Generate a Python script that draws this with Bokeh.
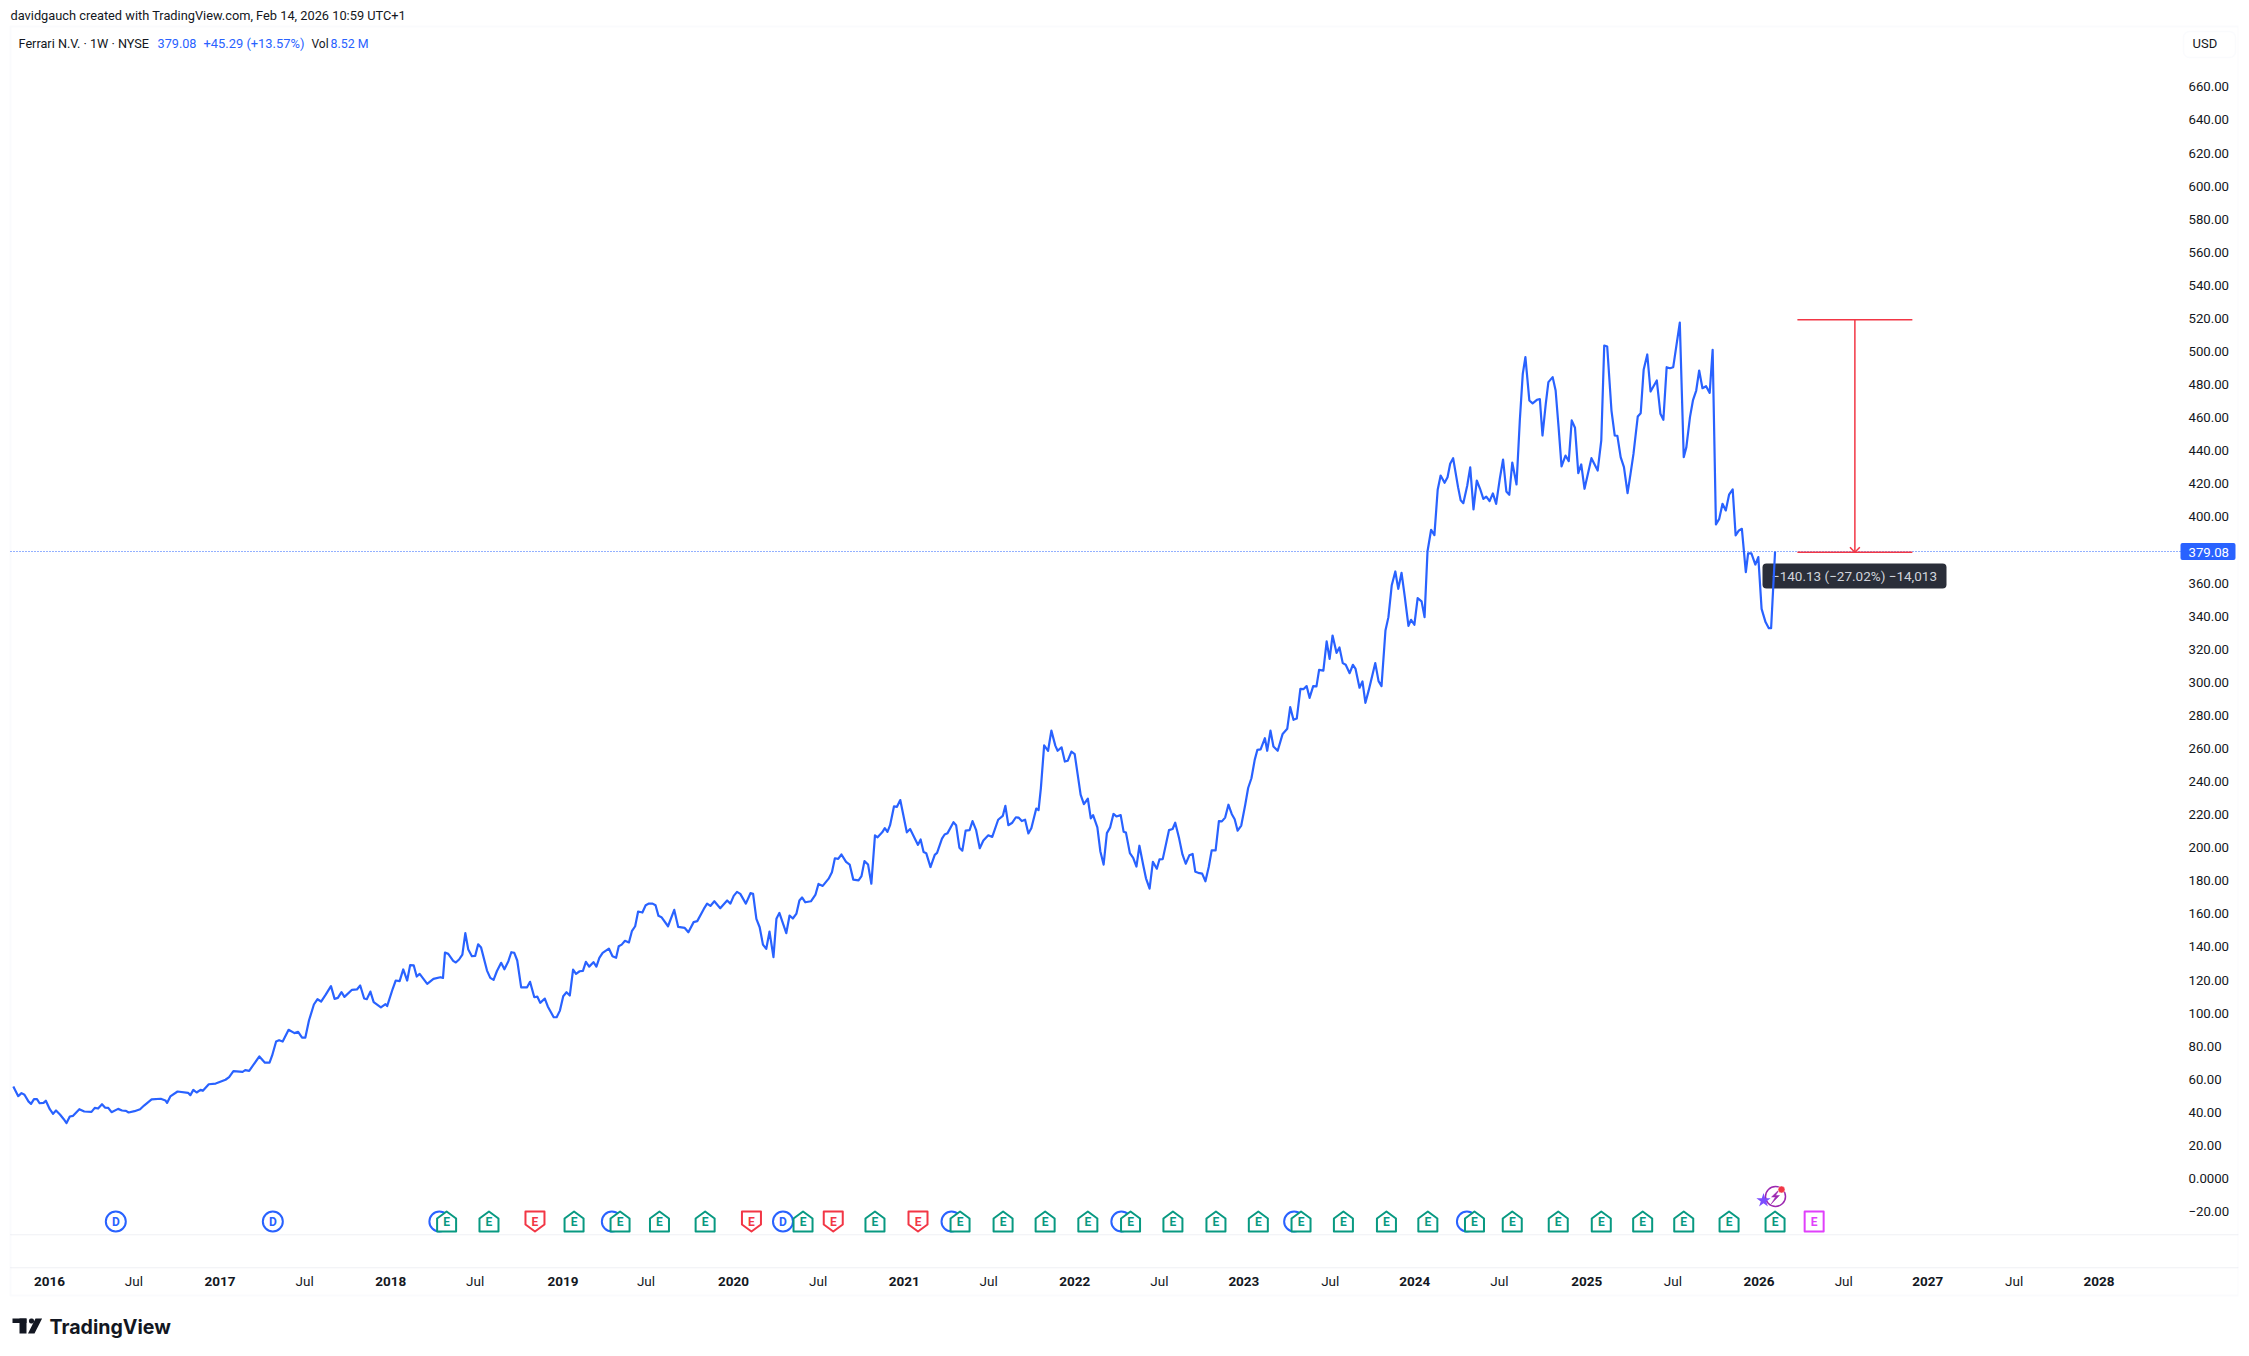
from bokeh.plotting import figure
from bokeh.models import (Range1d, LinearAxis, FixedTicker, Label, BoxAnnotation, PolyAnnotation)
from bokeh.core.properties import value
from bokeh.embed import file_html
from bokeh.resources import INLINE

# ---------- data ----------
week_no = [0.4,1.9,2.9,3.8,5,5.8,6.7,7.6,8.4,9.6,10.3,11.5,12.5,13.4,14.6,15.7,16.6,17.6,18.6,20.5,22,24.2,25.2,26.2,27.4,28.3,29.3,30.3,32.3,33.5,34.7,35.5,37.3,39,40.2,42.5,45.3,46.7,47.2,48.2,50.4,53.6,54.3,55.2,56.2,57.4,58.1,59.9,62,65,66.1,67.4,70.2,71,72.2,75.3,77,78.4,79.2,80.4,81.3,82.4,84.2,86,87.1,88.3,89.3,90.4,91.9,93,94.1,95.5,97.1,98.2,99.2,100.3,101.2,103.5,105,106,107.2,108,109.1,110.1,112.3,113.7,114.2,115.9,116.8,118,119.1,120.3,121.2,122.3,123.2,124.1,126.4,128.3,
130.4,131.2,131.8,132.8,134.3,135.1,136.1,137.1,138,138.9,140,141,141.9,142.8,144.6,145.6,146.6,147.6,148.9,149.9,151.1,152,152.9,153.8,155,156.8,157.7,159,159.9,160.8,162.2,163.1,164.9,165.8,166.8,167.8,168.8,169.8,170.8,171.7,172.8,173.8,174.7,175.7,177,177.9,178.8,179.8,181.7,182.8,183.9,184.7,185.6,186.6,187.8,188.7,189.7,190.6,191.9,192.9,193.9,195,195.9,196.8,197.7,199.7,201.6,202.8,204.8,205.9,207.5,208.6,210.6,211.6,212.6,213.8,215.6,217.7,218.7,219.7,220.7,221.7,223.4,224.8,225.6,226.6,227.6,228.6,229.6,230.6,231.8,232.7,233.6,235.7,236.7,237.7,238.8,239.7,240.5,241.5,243.2,244.6,245.5,246.8,248.6,249.6,250.5,251.5,
252.5,253.9,255,256.1,257.7,258.6,259.5,260.6,261.6,262.7,263.5,264.9,265.7,266.5,267.3,268.5,269.4,270.4,272.4,273.4,275.8,276.6,277.5,278.3,279.6,280.9,281.6,283.1,283.9,284.8,286.6,287.4,288.4,289.3,290.3,291.5,292.4,293.5,294.6,295.7,297.2,298.4,300.2,301.6,302.4,303.3,304.5,305.6,306.4,307.4,308.4,309.4,310.3,311.8,312.5,313.2,314.2,315.4,316.4,317.6,318.3,319.5,320.5,321.4,322.5,323.5,325.3,326.3,327.5,328.4,329.1,330.4,331.3,332.3,333.3,334.3,335.3,336.2,337.5,338.4,339.1,340.3,341.3,342.3,343.2,344.4,345.2,346.3,347.3,348.5,349.3,350.3,352.2,353.3,354.1,355.3,356.3,357.3,358.4,359.4,360.2,361.1,362.3,363.3,364.3,365.2,366.4,367.4,368.3,369.3,370.3,371.3,372.2,373.1,374.2,375.4,376.3,377.3,378.3,379.1,380.1,381.4,382.1,383.1,384,385.3,386.8,
388.2,389.1,390.1,391.1,392.2,393.2,394.1,395,396.1,397.1,397.9,399.2,400.2,401.1,402,403.2,404.1,405.1,406,407.2,408.2,409,410.2,411.1,412,413,415,416,416.9,418.1,419,420,421.1,422,423,424,425.1,425.9,426.9,427.9,429.1,430,430.9,432,433,434,434.9,436.1,437,437.8,438.7,
440.2,441,441.8,443,443.9,444.9,445.9,446.9,447.9,448.8,449.8,450.8,451.8,452.9,453.9,454.9,455.8,456.7,458,459,459.9,460.7,461.9,462.9,464.2,465.1,465.9,466.9,467.7,469,469.9,470.8,471.7,472.9,473.9,474.8,475.8,476.8,477.7,478.7,480.8,482.7,483.8,484.7,485.6,486.9,487.9,488.7,489.7,490.7,491.8,492.7,493.6,494.9,495.8,496.7,497.8,498.8,500.7,501.8,502.7,503.7,504.7,505.7,507.7,508.9,509.7,510.8,511.7,512.7,513.6,514.6,515.7,516.8,517.7,518.7,519.7,520.7,521.7,522.7,523.8,524.7,525.7,526.6,527.8,528.5,529.5,530.7,531.6,532.6,533.8,534.8,535.5,536.7]

close = [55.6,49.8,51.6,50.6,46.6,45.1,48,48,45.5,45.7,47,41.9,39.1,41.1,38.7,36,33.5,37.5,37.9,41.9,40.5,40.3,42.7,42.3,44.9,42.9,42.7,40.1,42.1,41.1,40.9,39.9,40.7,41.9,44.1,47.8,48.2,47.2,45.7,49.6,52.6,51.8,50.4,53.6,52,53.6,53,57,57.4,59.7,61.3,64.9,64.5,65.5,65.1,73.8,70,70.1,74.4,82.8,83.6,82.8,89.9,87.9,88.7,85.2,85.2,95.5,105.2,108.4,107,111.2,116.3,108.6,109.2,112.7,109.8,114.1,114.3,116.7,108.8,108.4,113,106.6,103.4,105.4,104.2,114.7,119.7,119.3,126.4,119.7,129,128.8,122.1,123.7,117.7,120.7,
121.7,121.3,136.6,135.8,131.6,130.6,132.4,135.4,148.3,138.4,134.4,134.6,141.6,139.6,125.7,121.3,120.1,125.3,130.4,126.5,131.4,136.8,136.4,131.8,115.6,115.6,118.9,109.6,110,106.2,108.8,104,97.5,97.5,101.5,110.2,112.6,110.6,126.3,123.7,125.3,125.5,131,128.1,130.8,128.1,133.4,136.4,139,134.4,133.4,140.4,141.4,143.7,142.7,149.5,152.5,161.4,160.8,165.2,166.2,166.2,165.2,158.8,158,152.5,162.4,152.1,151.5,148.9,155,155.6,163,166.2,164.8,167.6,163.4,168.1,166.2,170.9,173.3,172.1,166.2,172.5,172.1,157,151.9,141.4,138.8,149.3,133.8,157,160.6,148.3,159,157.2,160.2,168.1,169.9,167,167.6,171.7,178.1,176.9,181.3,185.2,193.6,193.2,
195.9,191.4,189.8,180.7,180.2,182.8,191.9,189.8,178.2,207.5,206.3,209.3,211.8,209.6,213.6,225,224.7,228.8,209.3,211.3,201.7,205,197.4,196.7,188.3,195.7,196.9,205.5,208,208.8,215.4,213.6,200,198.2,210.3,210.6,216.1,210.6,199.7,204.3,207.5,206.5,216.9,219.2,225.3,213.6,215.1,218.4,218.2,216.1,216.9,208.6,211.8,223.7,222.7,235.9,261.9,258.6,270.8,261.7,258.6,260.7,252.1,252.6,258.1,256.6,232.1,226.3,229.6,217.7,219.7,212.3,197.9,189.8,208.8,212.3,220.4,218.9,219.7,209.6,209.1,196.7,193.9,188.6,201.2,189.1,181.5,175.2,191.4,187.3,192.9,193.1,210.6,211.3,215.1,205.5,195.9,190.3,195.4,196.2,185.5,184.8,184.3,179.7,188.3,198.4,198.4,216.1,215.9,218.2,226,220.4,217.2,210.3,213.4,225.8,236.1,242,253.1,259.1,259.4,266.2,258.6,270.8,261.2,258.6,268.8,
271.9,285,277.3,278.1,296,295.9,297.7,290.6,297.7,297.5,307.5,307.1,324.7,314.2,328.3,317.8,321.1,311.6,310.6,305.5,310.6,308.1,296.7,300.5,287.6,295.1,311.6,300.7,297.7,331.3,339.4,358.5,367,356.5,366.2,351.5,334.1,337.8,334.8,350.9,348.9,339.4,379.1,392.2,389,416.4,425,420.6,424,432.1,435.5,
418,410,408.3,419,429.9,404.5,422,417,410.9,412.3,409.5,414.2,407.9,423,434.7,415.4,413.4,432.9,419.6,458.3,486.5,496.6,470.4,468.6,470.8,471.2,449.2,468.4,481.5,484.5,476.4,454.3,430.5,437.1,433.7,458.3,453.9,426.5,431.7,417,435.5,428,446.2,503.6,503,464.3,449.2,449,436.1,430.1,414.4,426,438.1,460.7,462.7,488.9,498.2,475.8,482.5,462.3,458.7,490.5,489.9,490.5,517.5,436.1,442.2,460.3,470.4,476.4,488.5,477.8,479,475,501,395.4,398.8,407.9,403.9,413.4,416.6,388.8,391.8,392.8,366.6,377.9,377.9,371.2,375.7,344.4,336.4,332.7,332.7,379.08]
assert len(week_no) == len(close)

last_price = 379.08
measure_high = 519.21
measure_low = 378.6
measure_weeks = [543.5, 578.5]

price_ticks = list(range(-20, 661, 20))
price_labels = {t: ("0.0000" if t == 0 else (f"−{abs(t)}.00" if t < 0 else f"{t}.00")) for t in price_ticks}

year_ticks = [11.4, 63.3, 115.3, 167.7, 219.6, 271.6, 323.5, 375.0, 427.0, 479.4, 531.8, 583.2, 635.3]
year_labels = ["2016","2017","2018","2019","2020","2021","2022","2023","2024","2025","2026","2027","2028"]
july_ticks = [37.1, 89.1, 141.0, 193.0, 245.4, 297.3, 349.3, 401.3, 452.8, 505.6, 557.6, 609.5]

dividend_full = [31.6, 79.4, 234.7]
dividend_hidden = [130.1, 182.6, 286.0, 337.7, 390.3, 442.9]
earn_beat = [132.3,145.2,171.1,185.1,197.1,211,240.8,262.7,288.6,301.7,314.5,327.5,340.5,353.4,366.5,379.4,392.4,405.3,418.4,431,445.2,456.7,470.7,483.8,496.4,508.9,522.7,536.7]
earn_miss = [159.2,225.1,250,275.8]
earn_next = [548.6]

# ---------- scales: the plotting frame fills the canvas so that all chrome stays visible ----------
PX_X, PX_Y = 3.285, 1.654
x0_px, y0_px = 11.5, 1178.0
W, H = 2241, 1348
FRAME_R = 2238
UI = "Roboto"
BLUE = "#2962ff"
INK = "#131722"

def wk(px): return (px - x0_px) / PX_X
def pr(px): return (y0_px - px) / PX_Y

p = figure(width=W, height=H, output_backend="svg", toolbar_location=None,
           x_range=Range1d(wk(0), wk(FRAME_R)), y_range=Range1d(pr(H), pr(0)),
           x_axis_location=None, y_axis_location=None,
           min_border_left=0, min_border_right=W - FRAME_R, min_border_top=0, min_border_bottom=0)
p.outline_line_color = None
p.grid.visible = False

def text(x, y, s, color=INK, size="13px", style="normal", align="left", font=UI, level="annotation", **kw):
    lab = Label(x=x, y=y, x_units="canvas", y_units="canvas", text=s, text_color=color,
                text_font=font, text_font_size=size, text_font_style=style,
                text_align=align, text_baseline="middle", level=level, **kw)
    p.add_layout(lab)
    return lab

def box(l, r, t, b, **kw):
    bx = BoxAnnotation(left=l, right=r, top=t, bottom=b,
                       left_units="canvas", right_units="canvas", top_units="canvas", bottom_units="canvas",
                       editable=False, **kw)
    p.add_layout(bx)
    return bx

# axes
ay = LinearAxis(ticker=FixedTicker(ticks=price_ticks), major_label_overrides=price_labels,
                axis_line_color=None, major_tick_line_color=None, minor_tick_line_color=None,
                major_tick_out=0, major_tick_in=0, major_label_standoff=2188 - FRAME_R,
                major_label_text_font=UI, major_label_text_font_size="13.2px", major_label_text_color=INK)
p.add_layout(ay, "right")

common = dict(axis_line_color=None, major_tick_line_color=None, minor_tick_line_color=None,
              major_tick_out=0, major_tick_in=0, major_label_text_font=UI,
              major_label_text_font_size="13.5px", major_label_text_color=INK)
ax_year = LinearAxis(ticker=FixedTicker(ticks=year_ticks),
                     major_label_overrides=dict(zip(year_ticks, year_labels)),
                     major_label_standoff=-72, major_label_text_font_style="bold", **common)
ax_jul = LinearAxis(ticker=FixedTicker(ticks=july_ticks),
                    major_label_overrides={t: "Jul" for t in july_ticks},
                    major_label_standoff=-76, **common)
p.add_layout(ax_year, "below")
p.add_layout(ax_jul, "below")

# chrome
box(10, FRAME_R, 26, 1295, fill_alpha=0, line_color="#f0f3fa", line_width=2, level="underlay")
box(10, FRAME_R, 1234, 1234.5, fill_alpha=0, line_color="#e0e3eb", line_width=1, level="underlay")
box(10, FRAME_R, 1267, 1267.5, fill_alpha=0, line_color="#e0e3eb", line_width=1, level="underlay")
box(2183, 2235, 31, 57, fill_color="white", fill_alpha=1, line_color="#f0f3fa", line_width=1.5, border_radius=6)
text(2192, 43, "USD", size="13px")

# header
text(10, 15, "davidgauch created with TradingView.com, Feb 14, 2026 10:59 UTC+1", size="12.8px")
text(18, 43, "Ferrari N.V. · 1W · NYSE", size="12.7px")
text(157, 43, "379.08", color=BLUE, size="12.7px")
text(203, 43, "+45.29 (+13.57%)", color=BLUE, size="12.9px")
text(311, 43, "Vol", size="12px")
text(330, 43, "8.52 M", color=BLUE, size="12.4px")

# logo
box(12, 26, 1318, 1322.5, fill_color="#131722", fill_alpha=1, line_color=None)
box(19, 26, 1318, 1333, fill_color="#131722", fill_alpha=1, line_color=None)
p.add_layout(PolyAnnotation(xs=[35, 41.6, 34, 27.5], ys=[1318, 1318, 1333, 1333],
                            xs_units="canvas", ys_units="canvas", fill_color="#131722", fill_alpha=1, line_color=None, editable=False))
box(28.5, 33.5, 1318, 1323, fill_color="#131722", fill_alpha=1, line_color=None, border_radius=2)
text(49, 1326, "TradingView", size="19.6px", style="bold", font="Inter")

# tooltip below the line
box(1762, 1946, 563, 588, fill_color="#2a2e39", fill_alpha=1, line_color=None, border_radius=4, level="underlay")
text(1854, 575.5, "−140.13 (−27.02%) −14,013", color="#d1d4dc", size="13.5px", align="center", level="underlay")

# series
p.segment(x0=[wk(10)], x1=[wk(2181)], y0=[last_price], y1=[last_price], line_color=BLUE, line_width=1, line_dash="1 2")
p.line(week_no, close, line_color=BLUE, line_width=2.2, line_join="round")

# measure tool
RED = "#f23645"
mid = sum(measure_weeks) / 2
p.segment(x0=[measure_weeks[0], measure_weeks[0], mid, mid - 1.5, mid + 1.5],
          x1=[measure_weeks[1], measure_weeks[1], mid, mid, mid],
          y0=[measure_high, measure_low, measure_high, measure_low + 3, measure_low + 3],
          y1=[measure_high, measure_low, measure_low, measure_low, measure_low],
          line_color=RED, line_width=1.5)

# last-price tag
BoxA = BoxAnnotation(left=2180, right=2235, top=last_price + 5.2, bottom=last_price - 5.2,
                     left_units="canvas", right_units="canvas", fill_color=BLUE, fill_alpha=1,
                     line_color=None, border_radius=2, editable=False)
p.add_layout(BoxA)
text(2188, 551.5, "379.08", color="white", size="13.2px")

# event markers
marker_price = pr(1221)
dx, dy = 9.5 / PX_X, 10 / PX_Y
nose = 3.5 / PX_Y

def up_tag(w):
    return ([w - dx, w - dx, w, w + dx, w + dx],
            [marker_price - dy, marker_price + dy - 2 * nose, marker_price + dy, marker_price + dy - 2 * nose, marker_price - dy])
def down_tag(w):
    return ([w - dx, w - dx, w + dx, w + dx, w],
            [marker_price - dy + 2 * nose, marker_price + dy, marker_price + dy, marker_price - dy + 2 * nose, marker_price - dy])
def sq_tag(w):
    return ([w - dx, w - dx, w + dx, w + dx], [marker_price - dy, marker_price + dy, marker_price + dy, marker_price - dy])

def circles(ws):
    p.scatter(ws, [marker_price] * len(ws), marker="circle", size=20, fill_color="white", line_color=BLUE, line_width=2)

def tags(ws, fn, col):
    shapes = [fn(w) for w in ws]
    p.patches([s[0] for s in shapes], [s[1] for s in shapes], fill_color="white", line_color=col, line_width=2, line_join="round")
    p.text(ws, [marker_price] * len(ws), text=["E"] * len(ws), text_color=col, text_font=value(UI), text_font_size="12px",
           text_font_style="bold", text_align="center", text_baseline="middle")

circles(dividend_hidden)
circles(dividend_full)
p.text(dividend_full, [marker_price] * 3, text=["D"] * 3, text_color=BLUE, text_font=value(UI), text_font_size="12px",
       text_font_style="bold", text_align="center", text_baseline="middle")
tags(earn_beat, up_tag, "#089981")
tags(earn_miss, down_tag, "#f23645")
tags(earn_next, sq_tag, "#e040fb")

# lightning icon
iw, ip = wk(1775), pr(1196)
p.scatter([iw], [ip], marker="circle", size=20, fill_color="white", line_color="#9c27b0", line_width=1.5)
p.patches([[iw + 1.3, iw - 1.2, iw, iw - 1.3, iw + 1.2, iw]], [[ip + 4.5, ip - 0.3, ip - 0.3, ip - 4.5, ip + 0.6, ip + 0.6]],
          fill_color="#9c27b0", line_color="#9c27b0", line_width=0.5)
p.scatter([wk(1781)], [pr(1189)], marker="circle", size=7, fill_color="#f23645", line_color="white", line_width=0.5)
p.scatter([wk(1763)], [pr(1200)], marker="star", size=15, fill_color="#7c4dff", line_color=None)

open("out.html", "w").write(file_html(p, INLINE))
